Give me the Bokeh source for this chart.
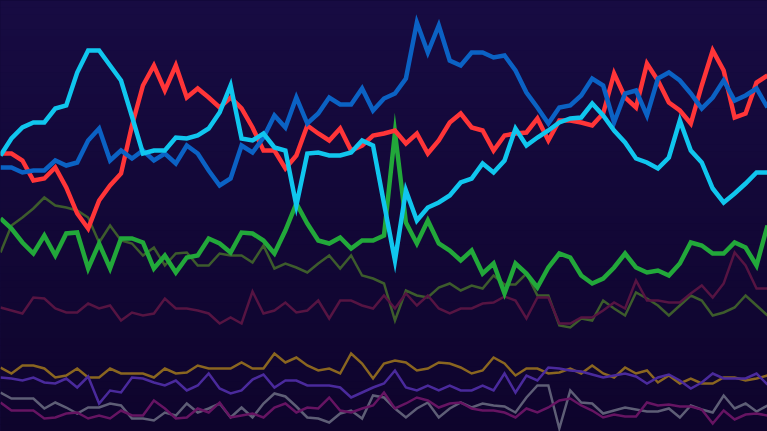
import numpy as np
from bokeh.plotting import figure
from bokeh.models import Range1d
from bokeh.embed import file_html
from bokeh.resources import INLINE

# 71 evenly spaced observations; values are read top-down (screen-like scale, 0 = top, 431 = bottom)
steps = list(range(71))

cyan = [155,138,127,122,122,108,105,72,50,50,65,80,116,153,150,150,137,138,135,128,
        112,85,138,140,133,147,150,205,153,152,155,155,152,140,145,203,260,190,220,207,
        202,195,182,178,163,172,160,128,145,137,130,122,118,117,103,115,130,142,158,162,
        168,157,120,150,162,188,202,193,183,172,172]
red = [153,153,160,180,178,167,187,213,228,200,185,173,125,85,65,90,65,97,88,97,
       107,97,108,127,150,150,168,155,125,133,140,128,150,145,135,133,130,143,133,153,
       140,122,113,127,130,150,135,133,132,118,140,120,120,122,125,113,73,97,107,63,
       80,102,110,123,85,50,70,117,113,82,75]
blue = [167,167,172,170,170,160,165,162,140,128,160,150,158,150,160,153,163,145,153,170,
        185,178,145,152,137,115,127,97,123,113,97,104,104,88,110,98,93,78,22,52,
        25,60,65,52,52,57,55,70,92,107,123,107,105,95,78,85,122,93,90,115,
        78,72,80,93,108,97,80,100,95,88,107]
green = [218,228,242,253,235,255,233,232,268,243,268,238,238,242,268,255,272,257,255,238,
         243,252,232,233,240,253,230,203,223,240,243,237,248,240,240,235,132,222,243,220,
         243,250,260,250,273,263,293,263,273,287,267,253,257,275,283,278,267,253,267,272,
         270,275,263,242,245,253,253,242,247,265,225]
olive = [252,225,217,208,197,205,207,210,217,242,225,240,243,255,247,265,253,252,265,265,
         253,255,255,262,245,268,263,267,272,263,255,268,255,275,278,283,320,290,295,297,
         287,283,290,285,288,275,284,284,273,295,295,325,327,318,320,300,308,315,292,298,
         305,315,305,295,300,315,312,307,295,305,315]
maroon = [307,310,313,297,298,308,312,312,303,308,305,320,312,315,313,298,308,308,310,313,
          323,317,323,291,313,310,302,312,310,300,318,300,300,305,308,295,308,293,305,295,
          308,313,308,308,303,302,296,300,318,297,297,323,323,317,317,310,302,308,280,300,
          300,302,302,293,285,297,283,252,265,288,288]
gold = [367,373,365,365,368,377,375,368,377,377,368,373,373,373,377,368,373,372,365,368,
        368,368,362,368,368,353,362,357,365,370,368,373,353,363,378,363,360,362,370,368,
        362,363,367,373,370,357,363,375,368,368,373,372,368,373,365,373,377,367,373,370,
        382,375,383,378,383,383,377,377,380,378,375]
purple = [377,378,380,377,382,383,378,387,376,403,390,392,377,378,382,385,380,390,385,373,
          388,393,390,379,374,387,380,380,385,385,385,387,397,392,387,383,370,387,390,385,
          390,385,390,390,385,390,373,392,375,380,367,368,370,371,374,377,375,373,376,383,
          377,374,380,388,382,373,378,378,378,373,384]
gray = [392,398,398,398,408,402,407,413,407,407,403,405,418,418,420,412,415,403,412,408,
        403,417,407,417,403,393,396,406,417,418,422,413,410,418,395,397,408,417,408,402,
        417,408,402,407,403,405,406,412,397,385,385,428,390,402,403,413,410,407,409,411,
        411,408,417,405,409,412,395,408,403,411,405]
magenta = [402,410,410,410,418,417,413,412,418,415,418,410,415,415,400,408,418,417,408,412,
           402,417,415,413,417,407,403,412,407,408,397,410,412,408,405,392,408,403,397,400,
           407,403,402,408,410,410,412,417,408,412,407,400,398,405,410,417,414,416,416,402,
           405,404,406,406,409,423,410,419,414,413,415]

BG_TOP = (23, 11, 66)
BG_BOTTOM = (14, 4, 44)

# the page margin is removed below, so the figure can fill the whole window
W, H = 767, 431
p = figure(width=W, height=H, output_backend="svg", toolbar_location=None,
           x_range=Range1d(0, 70), y_range=Range1d(431, 0),
           min_border=0, min_border_left=0, min_border_right=0,
           min_border_top=0, min_border_bottom=0)
p.axis.visible = False
p.grid.visible = False
p.outline_line_color = None
p.background_fill_color = "#130838"
p.border_fill_color = "#130838"

# vertical background gradient (decoration), drawn as thin bands
nb = 60
edges = np.linspace(0, 431, nb + 1)
band_cols = []
for k in range(nb):
    t = k / (nb - 1)
    c = tuple(int(round(BG_TOP[j] + (BG_BOTTOM[j] - BG_TOP[j]) * t)) for j in range(3))
    band_cols.append("#%02x%02x%02x" % c)
p.quad(left=-2, right=72, top=edges[:-1], bottom=edges[1:] + 0.5,
       fill_color=band_cols, line_color=None)

thin = [
    (olive, "#3d5c2c", 2.5),
    (maroon, "#561442", 2.5),
    (gold, "#8a6620", 2.5),
    (purple, "#4a2a9c", 2.5),
    (gray, "#5e5e76", 2.5),
    (magenta, "#661462", 2.5),
]
for vals, col, w in thin:
    p.line(steps, vals, line_color=col, line_width=w, line_join="miter")

thick = [
    (green, "#22a83a", 4.5),
    (red, "#ff3538", 4.5),
    (blue, "#0b62c4", 4.5),
    (cyan, "#10c6ee", 4.5),
]
for vals, col, w in thick:
    p.line(steps, vals, line_color=col, line_width=w, line_join="miter")

html = file_html(p, INLINE)
style = "<style>html,body{margin:0;padding:0;background:#130838;overflow:hidden;}</style>"
html = html.replace("</head>", style + "</head>", 1)
open("out.html", "w").write(html)
